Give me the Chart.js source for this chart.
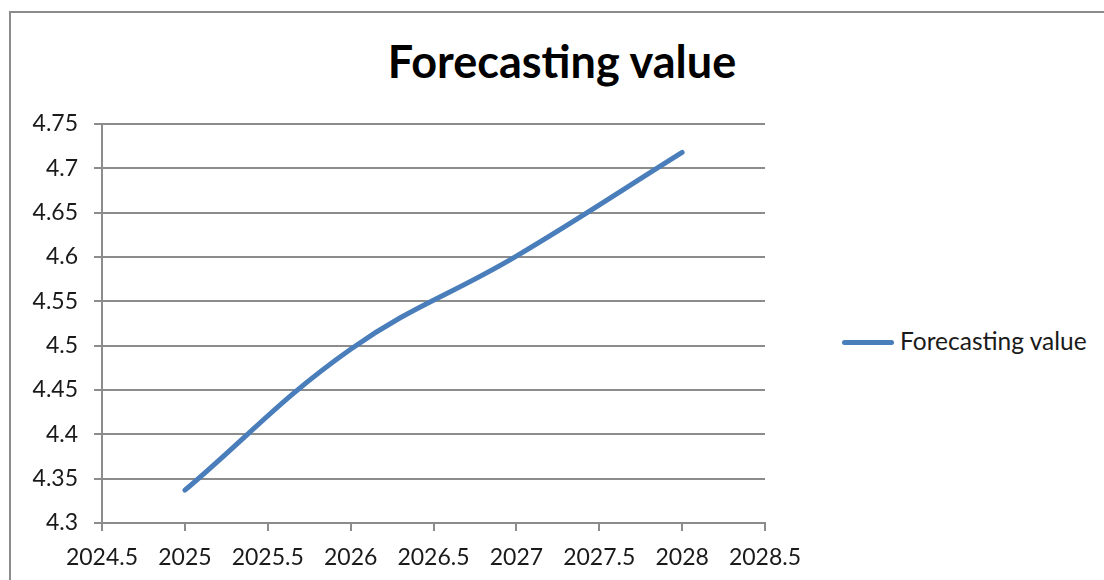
<!DOCTYPE html>
<html>
<head>
<meta charset="utf-8">
<script src="https://cdn.jsdelivr.net/npm/chart.js@4"></script>
<style>
  body { margin: 0; background: #fff; }
  #wrap { position: relative; width: 1104px; height: 580px; overflow: hidden; }
  #frame { position: absolute; left: 9px; top: 11px; width: 1200px; height: 700px; border: 2px solid #8c8c8c; box-sizing: border-box; }
  #title { position: absolute; left: 0; width: 1124px; top: 34px; text-align: center; font: bold 45px Lato, sans-serif; color: #000; }
  #legend { position: absolute; left: 842px; top: 326px; font: 24.5px Lato, sans-serif; color: #1a1a1a; white-space: nowrap; }
  #legend .swatch { display: inline-block; width: 52px; height: 5px; border-radius: 3px; background: #4a7ebb; vertical-align: middle; margin-right: 6px; position: relative; top: -1px; }
  canvas { position: absolute; left: 0; top: 0; }
</style>
</head>
<body>
<div id="wrap">
  <div id="frame"></div>
  <div id="title">Forecasting value</div>
  <div id="legend"><span class="swatch"></span>Forecasting value</div>
  <canvas id="chart" width="1104" height="580"></canvas>
</div>
<script>
const years = [2025, 2026, 2027, 2028];
const forecast = [4.337, 4.496, 4.601, 4.718];
const seriesName = 'Forecasting value';

const gridColor = '#8c8c8c';
const tickFont = { family: 'Lato', size: 23 };

function buildChart() {
  const data = {
    datasets: [
      {
        label: seriesName,
        data: years.map((x, i) => ({ x: x, y: forecast[i] })),
        borderColor: '#4a7ebb',
        borderWidth: 5,
        borderCapStyle: 'round',
        pointRadius: 0,
        showLine: true,
        tension: 0.4,
        fill: false,
      },
    ],
  };

  const config = {
    type: 'scatter',
    data: data,
    options: {
      responsive: false,
      animation: false,
      layout: { padding: { left: 0, right: 339, top: 124, bottom: 0 } },
      plugins: {
        legend: { display: false },
        title: { display: false },
        tooltip: { enabled: false },
      },
      scales: {
        x: {
          type: 'linear',
          min: 2024.5,
          max: 2028.5,
          ticks: {
            stepSize: 0.5,
            color: '#1a1a1a',
            font: tickFont,
            padding: 13,
            maxRotation: 0,
            callback: (v) => String(v),
          },
          grid: {
            drawOnChartArea: false,
            drawTicks: true,
            tickLength: 8,
            color: gridColor,
            lineWidth: 2,
          },
          border: { color: gridColor, width: 2 },
          afterFit: (scale) => { scale.height = 57; },
        },
        y: {
          min: 4.3,
          max: 4.75,
          ticks: {
            stepSize: 0.05,
            color: '#1a1a1a',
            font: tickFont,
            padding: 16,
            callback: (v) => String(Math.round(v * 100) / 100),
          },
          grid: {
            color: gridColor,
            lineWidth: 2,
            tickLength: 8,
          },
          border: { color: gridColor, width: 2 },
          afterFit: (scale) => { scale.width = 102; },
        },
      },
    },
  };

  new Chart(document.getElementById('chart'), config);
}

buildChart();
</script>
</body>
</html>
